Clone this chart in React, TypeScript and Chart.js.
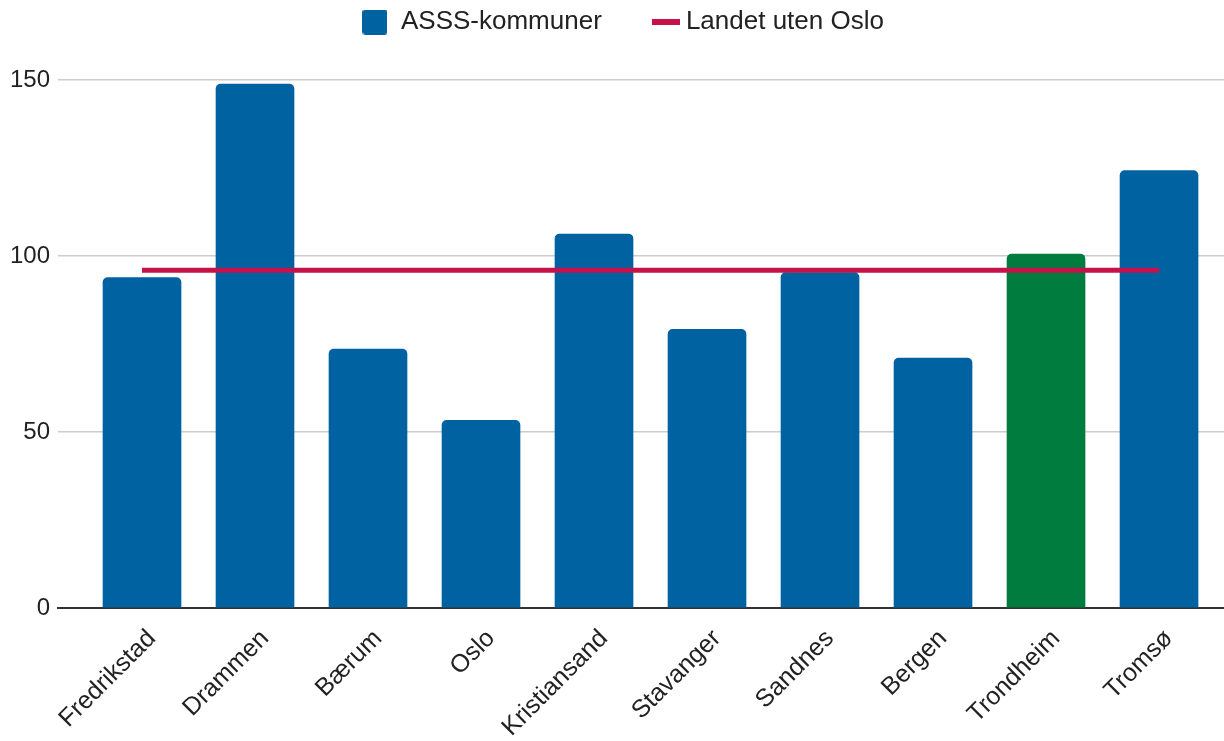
import React, { useEffect, useRef } from 'react';
import { Chart, registerables } from 'chart.js';

Chart.register(...registerables);

const categories = ['Fredrikstad', 'Drammen', 'Bærum', 'Oslo', 'Kristiansand', 'Stavanger', 'Sandnes', 'Bergen', 'Trondheim', 'Tromsø'];
const asssValues = [93.9, 148.9, 73.6, 53.3, 106.3, 79.2, 95.3, 71.0, 100.6, 124.3];
const landetValues = [96.0, 96.0, 96.0, 96.0, 96.0, 96.0, 96.0, 96.0, 96.0, 96.0];
const barColors = ['#0062a0', '#0062a0', '#0062a0', '#0062a0', '#0062a0', '#0062a0', '#0062a0', '#0062a0', '#007c3e', '#0062a0'];
const seriesLabels = ['ASSS-kommuner', 'Landet uten Oslo'];
const yTicks = [0, 50, 100, 150];

const BLUE = '#0062a0';
const RED = '#c5124a';
const FONT = "'Liberation Sans', Arial, sans-serif";
const TEXT = '#222222';

function makeMarker(w: number, h: number, color: string, r: number, x0: number, cw: number) {
  const c = document.createElement('canvas');
  c.width = cw;
  c.height = h;
  const ctx = c.getContext('2d')!;
  ctx.fillStyle = color;
  ctx.beginPath();
  if ((ctx as any).roundRect) (ctx as any).roundRect(x0, 0, w, h, r);
  else ctx.rect(x0, 0, w, h);
  ctx.fill();
  return c;
}

export default function App() {
  const canvasRef = useRef<HTMLCanvasElement | null>(null);

  useEffect(() => {
    document.body.style.margin = '0';
    const canvas = canvasRef.current;
    if (!canvas) return;
    const blueMarker = makeMarker(25, 25, BLUE, 3, 0, 25);
    const redMarker = makeMarker(28, 6, RED, 0, 12, 40);

    const chart = new Chart(canvas, {
      type: 'bar',
      data: {
        datasets: [
          {
            type: 'bar',
            label: seriesLabels[0],
            data: categories.map((_, i) => ({ x: i, y: asssValues[i] })),
            backgroundColor: barColors,
            barThickness: 78,
            borderRadius: 5,
            borderSkipped: 'bottom',
            order: 1,
          } as any,
          {
            type: 'line',
            label: seriesLabels[1],
            data: categories.map((_, i) => ({ x: i, y: landetValues[i] })),
            borderColor: RED,
            backgroundColor: RED,
            borderWidth: 5,
            pointRadius: 0,
            fill: false,
            order: 0,
          } as any,
        ],
      },
      options: {
        responsive: false,
        animation: false,
        devicePixelRatio: 1,
        layout: { padding: { left: 10, right: 0, top: 0, bottom: 0 } },
        plugins: {
          tooltip: { enabled: false },
          legend: {
            display: true,
            position: 'top',
            fullSize: false,
            labels: {
              usePointStyle: true,
              boxWidth: 26,
              boxHeight: 26,
              padding: 9,
              color: TEXT,
              font: { family: FONT, size: 26 },
              sort: (a: any, b: any) => a.datasetIndex - b.datasetIndex,
              generateLabels: (ch: any) => {
                const items = (Chart.defaults.plugins.legend.labels as any).generateLabels(ch);
                items.forEach((it: any) => {
                  it.text = it.text + '     ';
                  it.pointStyle = it.datasetIndex === 0 ? blueMarker : redMarker;
                });
                return items;
              },
            },
          },
        },
        scales: {
          x: {
            type: 'linear',
            position: 'bottom',
            min: -0.7434,
            max: 9.575,
            offset: false,
            grid: { display: false, offset: false, drawTicks: false },
            border: { display: true, color: '#333333', width: 2 },
            afterBuildTicks: (scale: any) => {
              scale.ticks = categories.map((_, i) => ({ value: i }));
            },
            afterFit: (scale: any) => {
              scale.height = 133;
            },
            ticks: {
              autoSkip: false,
              minRotation: 45,
              maxRotation: 45,
              padding: 16,
              labelOffset: 10,
              color: TEXT,
              font: { family: FONT, size: 25 },
              callback: (v: any) => categories[Math.round(Number(v))] ?? '',
            },
          },
          y: {
            type: 'linear',
            min: 0,
            max: 160,
            border: { display: false },
            afterBuildTicks: (scale: any) => {
              scale.ticks = yTicks.map((v) => ({ value: v }));
            },
            afterFit: (scale: any) => {
              scale.width = 48;
            },
            grid: {
              drawTicks: false,
              lineWidth: 1.5,
              color: (ctx: any) => (ctx.tick && ctx.tick.value === 0 ? 'rgba(0,0,0,0)' : '#cccccc'),
            },
            ticks: {
              padding: 8,
              color: TEXT,
              font: { family: FONT, size: 24 },
            },
          },
        },
      } as any,
    });
    return () => chart.destroy();
  }, []);

  return (
    <div style={{ width: 1224, height: 741, background: '#ffffff' }}>
      <canvas ref={canvasRef} width={1224} height={741} />
    </div>
  );
}
